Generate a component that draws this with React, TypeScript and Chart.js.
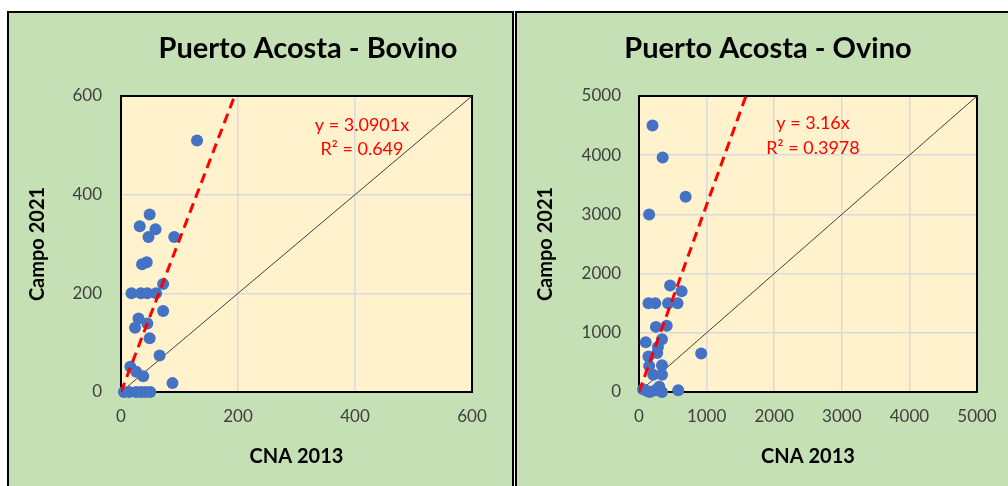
import React, { useEffect, useRef } from "react";
import { Chart, registerables } from "chart.js";

Chart.register(...registerables);

// ---- Data: Puerto Acosta - Bovino ----
const bovinoCNA = [130, 49, 32, 59, 47, 91, 44, 36, 72, 18, 34, 45, 60, 72, 30, 45, 24, 49, 66, 16, 26, 38, 88, 5, 14, 26, 34, 42, 50];
const bovinoCampo = [510, 360, 336, 330, 314, 314, 263, 259, 219, 200, 200, 200, 200, 164, 149, 139, 130, 109, 74, 51, 41, 32, 18, 0, 0, 0, 0, 0, 0];
const bovinoSlope = 3.0901;
const bovinoR2 = "0.649";
const bovinoTicks = [0, 200, 400, 600];

// ---- Data: Puerto Acosta - Ovino ----
const ovinoCNA = [200, 350, 690, 150, 460, 630, 140, 240, 430, 570, 250, 410, 100, 340, 280, 270, 140, 150, 340, 210, 340, 920, 60, 110, 160, 240, 340, 580, 300];
const ovinoCampo = [4500, 3960, 3300, 3000, 1800, 1700, 1500, 1500, 1500, 1500, 1100, 1120, 840, 890, 760, 660, 600, 440, 450, 290, 290, 650, 45, 20, 0, 30, 0, 30, 90];
const ovinoSlope = 3.16;
const ovinoR2 = "0.3978";
const ovinoTicks = [0, 1000, 2000, 3000, 4000, 5000];

const FONT = "Lato, 'Noto Sans', 'DejaVu Sans', sans-serif";

const decor = {
  id: "decor",
  beforeDraw(chart: any) {
    const { ctx, chartArea: a } = chart;
    ctx.save();
    ctx.fillStyle = "#FFF2CC";
    ctx.fillRect(a.left, a.top, a.right - a.left, a.bottom - a.top);
    ctx.restore();
  },
  beforeDatasetsDraw(chart: any) {
    const { ctx, chartArea: a } = chart;
    ctx.save();
    ctx.strokeStyle = "#000000";
    ctx.lineWidth = 2;
    ctx.strokeRect(a.left, a.top, a.right - a.left, a.bottom - a.top);
    ctx.restore();
  },
  afterDraw(chart: any, _args: any, opts: any) {
    const { ctx } = chart;
    ctx.save();
    ctx.fillStyle = "#000000";
    ctx.font = `bold 29px ${FONT}`;
    ctx.textAlign = "center";
    ctx.textBaseline = "alphabetic";
    ctx.fillText(opts.title, opts.titleX, opts.titleY);
    const xs = chart.scales.x;
    const ys = chart.scales.y;
    ctx.fillStyle = "#FF0000";
    ctx.font = `18px ${FONT}`;
    ctx.textBaseline = "middle";
    const px = xs.getPixelForValue(opts.eqX);
    ctx.fillText(opts.eq1, px, ys.getPixelForValue(opts.eqY1));
    ctx.fillText(opts.eq2, px, ys.getPixelForValue(opts.eqY2));
    ctx.restore();
  },
};

type PanelProps = {
  title: string;
  xs: number[];
  ys: number[];
  slope: number;
  r2: string;
  ticks: number[];
  left: number;
  canvasW: number;
  chartLeft: number;
  padRight: number;
  titleX: number;
  eqX: number;
  eqY1: number;
  eqY2: number;
  yTickPad: number;
};

const CANVAS_H = 473;

function ScatterPanel(p: PanelProps) {
  const ref = useRef<HTMLCanvasElement | null>(null);
  useEffect(() => {
    if (!ref.current) return;
    const max = p.ticks[p.ticks.length - 1];
    const points = p.xs.map((x, i) => ({ x, y: p.ys[i] }));
    const tickFont = { family: FONT, size: 17 };
    const titleFont = { family: FONT, size: 20, weight: "bold" as const };
    const chart = new Chart(ref.current, {
      type: "scatter",
      data: {
        datasets: [
          {
            type: "line",
            data: [
              { x: 0, y: 0 },
              { x: max / p.slope, y: max },
            ],
            borderColor: "#FF0000",
            borderWidth: 3,
            borderDash: [10, 6],
            pointRadius: 0,
            fill: false,
            order: 0,
          } as any,
          {
            data: points,
            backgroundColor: "#4472C4",
            borderColor: "#4472C4",
            borderWidth: 0,
            pointRadius: 6,
            clip: false,
            order: 1,
          } as any,
          {
            type: "line",
            data: [
              { x: 0, y: 0 },
              { x: max, y: max },
            ],
            borderColor: "#404040",
            borderWidth: 1,
            pointRadius: 0,
            fill: false,
            order: 2,
          } as any,
        ],
      },
      options: {
        animation: false,
        responsive: false,
        devicePixelRatio: 1,
        layout: { padding: { top: 83, right: p.padRight, left: 0, bottom: 0 } },
        plugins: {
          legend: { display: false },
          tooltip: { enabled: false },
          decor: {
            title: p.title,
            titleX: p.titleX,
            titleY: 45,
            eq1: `y = ${p.slope}x`,
            eq2: `R² = ${p.r2}`,
            eqX: p.eqX,
            eqY1: p.eqY1,
            eqY2: p.eqY2,
          },
        } as any,
        scales: {
          x: {
            type: "linear",
            min: 0,
            max,
            afterBuildTicks: (s: any) => {
              s.ticks = p.ticks.map((v) => ({ value: v }));
            },
            ticks: { font: tickFont, color: "#404040", padding: 14, maxRotation: 0, autoSkip: false, callback: (v: any) => String(v) },
            grid: { color: "#D9D9D9", lineWidth: 1.5, drawTicks: false },
            border: { display: false },
            title: { display: true, text: "CNA 2013", font: titleFont, color: "#000000", padding: { top: 0, bottom: 17 } },
            afterFit: (s: any) => {
              s.height = CANVAS_H - 379;
            },
          },
          y: {
            type: "linear",
            min: 0,
            max,
            afterBuildTicks: (s: any) => {
              s.ticks = p.ticks.map((v) => ({ value: v }));
            },
            ticks: { font: tickFont, color: "#404040", padding: p.yTickPad, autoSkip: false, callback: (v: any) => String(v) },
            grid: { color: "#D9D9D9", lineWidth: 1.5, drawTicks: false },
            border: { display: false },
            title: { display: true, text: "Campo 2021", font: titleFont, color: "#000000", padding: { top: 17, bottom: 0 } },
            afterFit: (s: any) => {
              s.width = p.chartLeft;
            },
          },
        },
      },
      plugins: [decor as any],
    });
    return () => chart.destroy();
  }, []);

  return (
    <div
      style={{
        position: "absolute",
        left: p.left,
        top: 11,
        width: p.canvasW,
        height: 490,
        border: "2px solid #000000",
        background: "#C5E0B4",
      }}
    >
      <canvas ref={ref} width={p.canvasW} height={CANVAS_H} style={{ display: "block", width: p.canvasW, height: CANVAS_H }} />
    </div>
  );
}

export default function App() {
  return (
    <div style={{ position: "fixed", left: 0, top: 0, width: 1008, height: 486, overflow: "hidden", background: "#FFFFFF" }}>
      <ScatterPanel
        title="Puerto Acosta - Bovino"
        xs={bovinoCNA}
        ys={bovinoCampo}
        slope={bovinoSlope}
        r2={bovinoR2}
        ticks={bovinoTicks}
        left={7}
        canvasW={503}
        chartLeft={112}
        padRight={40}
        titleX={299}
        eqX={412}
        eqY1={541}
        eqY2={493}
        yTickPad={19}
      />
      <ScatterPanel
        title="Puerto Acosta - Ovino"
        xs={ovinoCNA}
        ys={ovinoCampo}
        slope={ovinoSlope}
        r2={ovinoR2}
        ticks={ovinoTicks}
        left={515}
        canvasW={495}
        chartLeft={122}
        padRight={35}
        titleX={251}
        eqX={2574}
        eqY1={4543}
        eqY2={4126}
        yTickPad={18}
      />
    </div>
  );
}
